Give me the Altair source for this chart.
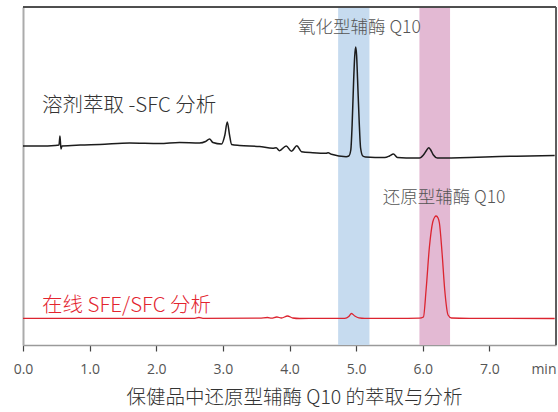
import altair as alt
import pandas as pd

# Chromatogram traces: retention time (min) and detector signal (arbitrary units)
black_t = [0.00, 0.26, 0.48, 0.54, 0.555, 0.57, 0.585, 0.86, 1.15, 1.60, 2.05, 2.35, 2.65, 2.74,
           2.80, 2.85, 2.98, 3.03, 3.066, 3.10, 3.13, 3.25, 3.55, 3.75, 3.80, 3.85, 3.95, 4.03,
           4.11, 4.18, 4.35, 4.55, 4.58, 4.63, 4.85, 4.89, 4.92, 4.94, 4.963, 4.978, 4.993, 5.007,
           5.022, 5.045, 5.067, 5.10, 5.14, 5.43, 5.50, 5.56, 5.62, 5.88, 5.95, 6.01, 6.06, 6.09,
           6.12, 6.16, 6.22, 6.70, 7.15, 7.60, 7.98]
black_s = [198, 198, 198.5, 199, 208, 195, 198, 199, 199.5, 201, 200.5, 201.5, 201, 202.5,
           205, 201.5, 200, 209, 222, 209, 199.5, 198.5, 197.5, 195.7, 196.3, 193.3, 198, 192.7,
           198.3, 192.3, 191.3, 190.7, 191.3, 189.7, 187.3, 188, 194, 219, 264, 287, 297, 289,
           264, 224, 196, 188, 187, 186.5, 188, 190, 186.5, 186, 186, 189, 194, 196.3,
           194, 189, 186, 186.5, 187.5, 188, 188.5]

red_t = [0.00, 1.15, 2.58, 2.64, 2.70, 3.55, 3.67, 3.73, 3.81, 3.88, 3.97, 4.05, 4.15, 4.45,
         4.83, 4.89, 4.93, 4.98, 5.04, 5.13, 5.65, 5.95, 6.01, 6.05, 6.10, 6.15, 6.18, 6.20,
         6.23, 6.25, 6.29, 6.33, 6.38, 6.43, 6.70, 7.98]
red_s = [25.7, 25.7, 25.7, 26.5, 25.7, 25.8, 26.5, 25.8, 27, 26, 28, 26, 25.5, 25.7,
         25.7, 27.5, 30.5, 28, 26.2, 25.7, 25.7, 25.8, 27, 54, 97, 122, 127, 128,
         126, 121, 91, 54, 29, 26, 25.7, 25.5]

# Highlight windows (min)
band_names = ["oxidized", "reduced"]
band_start = [4.73, 5.95]
band_end = [5.20, 6.41]
band_colors = ["#c6dbef", "#e3b9d3"]

# Annotations
label_text = ["溶剂萃取 -SFC 分析", "在线 SFE/SFC 分析"]
label_t = [0.285, 0.285]
label_s = [238, 38]
label_colors = ["#333333", "#e3242f"]

peak_text = ["氧化型辅酶 Q10", "还原型辅酶 Q10"]
peak_t = [5.05, 6.32]
peak_s = [316, 146.5]

tick_values = [0, 1, 2, 3, 4, 5, 6, 7, 8]
x_title = "保健品中还原型辅酶 Q10 的萃取与分析"

FONT = "Noto Sans CJK SC"

black_df = pd.DataFrame({"t": black_t, "s": black_s})
red_df = pd.DataFrame({"t": red_t, "s": red_s})
band_df = pd.DataFrame({"name": band_names, "start": band_start, "end": band_end, "color": band_colors})
label_df = pd.DataFrame({"text": label_text, "t": label_t, "s": label_s, "color": label_colors})
peak_df = pd.DataFrame({"text": peak_text, "t": peak_t, "s": peak_s})

xscale = alt.Scale(domain=[0, 8], nice=False, zero=False)
yscale = alt.Scale(domain=[-1, 337], nice=False, zero=False)

x_axis = alt.Axis(
    values=tick_values,
    labelExpr="datum.value == 8 ? 'min' : format(datum.value, '.1f')",
    labelAlign={"condition": {"test": "datum.value == 8", "value": "right"}, "value": "center"},
    tickOpacity={"condition": {"test": "datum.value == 8", "value": 0}, "value": 1},
    labelFlush=False,
    grid=False,
    domainColor="#9a9a9a",
    domainWidth=1.5,
    tickColor="#444444",
    tickWidth=1.2,
    tickSize=6,
    labelPadding=11,
    labelFont="Open Sans",
    labelFontSize=14,
    labelColor="#555555",
    title=x_title,
    titleFont=FONT,
    titleFontSize=19.5,
    titleFontWeight=300,
    titleColor="#333333",
    titlePadding=12,
    titleX=271,
)
y_axis = alt.Axis(
    grid=False, ticks=False, labels=False, title=None,
    domainColor="#ababab", domainWidth=2,
)

bands = alt.Chart(band_df).mark_rect().encode(
    x=alt.X("start:Q", scale=xscale, axis=x_axis),
    x2="end:Q",
    color=alt.Color("color:N", scale=None),
)

black_line = alt.Chart(black_df).mark_line(color="#1c1c1c", strokeWidth=1.5, interpolate="monotone").encode(
    x=alt.X("t:Q", scale=xscale),
    y=alt.Y("s:Q", scale=yscale, axis=y_axis),
)
red_line = alt.Chart(red_df).mark_line(color="#dc2430", strokeWidth=1.3, interpolate="monotone").encode(
    x=alt.X("t:Q", scale=xscale),
    y=alt.Y("s:Q", scale=yscale),
)

labels = alt.Chart(label_df).mark_text(align="left", baseline="middle", font=FONT, fontSize=20.5, fontWeight=300).encode(
    x=alt.X("t:Q", scale=xscale),
    y=alt.Y("s:Q", scale=yscale),
    text="text:N",
    color=alt.Color("color:N", scale=None),
)
peaks = alt.Chart(peak_df).mark_text(align="center", baseline="middle", font=FONT, fontSize=17.5, fontWeight=300, color="#555555").encode(
    x=alt.X("t:Q", scale=xscale),
    y=alt.Y("s:Q", scale=yscale),
    text="text:N",
)

top_border = alt.Chart(band_df).mark_rule(color="#444444", strokeWidth=1.5).encode(
    y=alt.datum(337, scale=yscale)
)
right_border = alt.Chart(band_df).mark_rule(color="#555555", strokeWidth=1.5).encode(
    x=alt.datum(8, scale=xscale)
)

chart = alt.layer(bands, black_line, red_line, labels, peaks, top_border, right_border).properties(
    width=533,
    height=338,
    autosize=alt.AutoSizeParams(type="none"),
    padding={"left": 23, "top": 7, "right": 2, "bottom": 67},
).configure_view(stroke=None).configure(background="white")

chart.save("out.html", embed_options={"renderer": "svg", "actions": False})
